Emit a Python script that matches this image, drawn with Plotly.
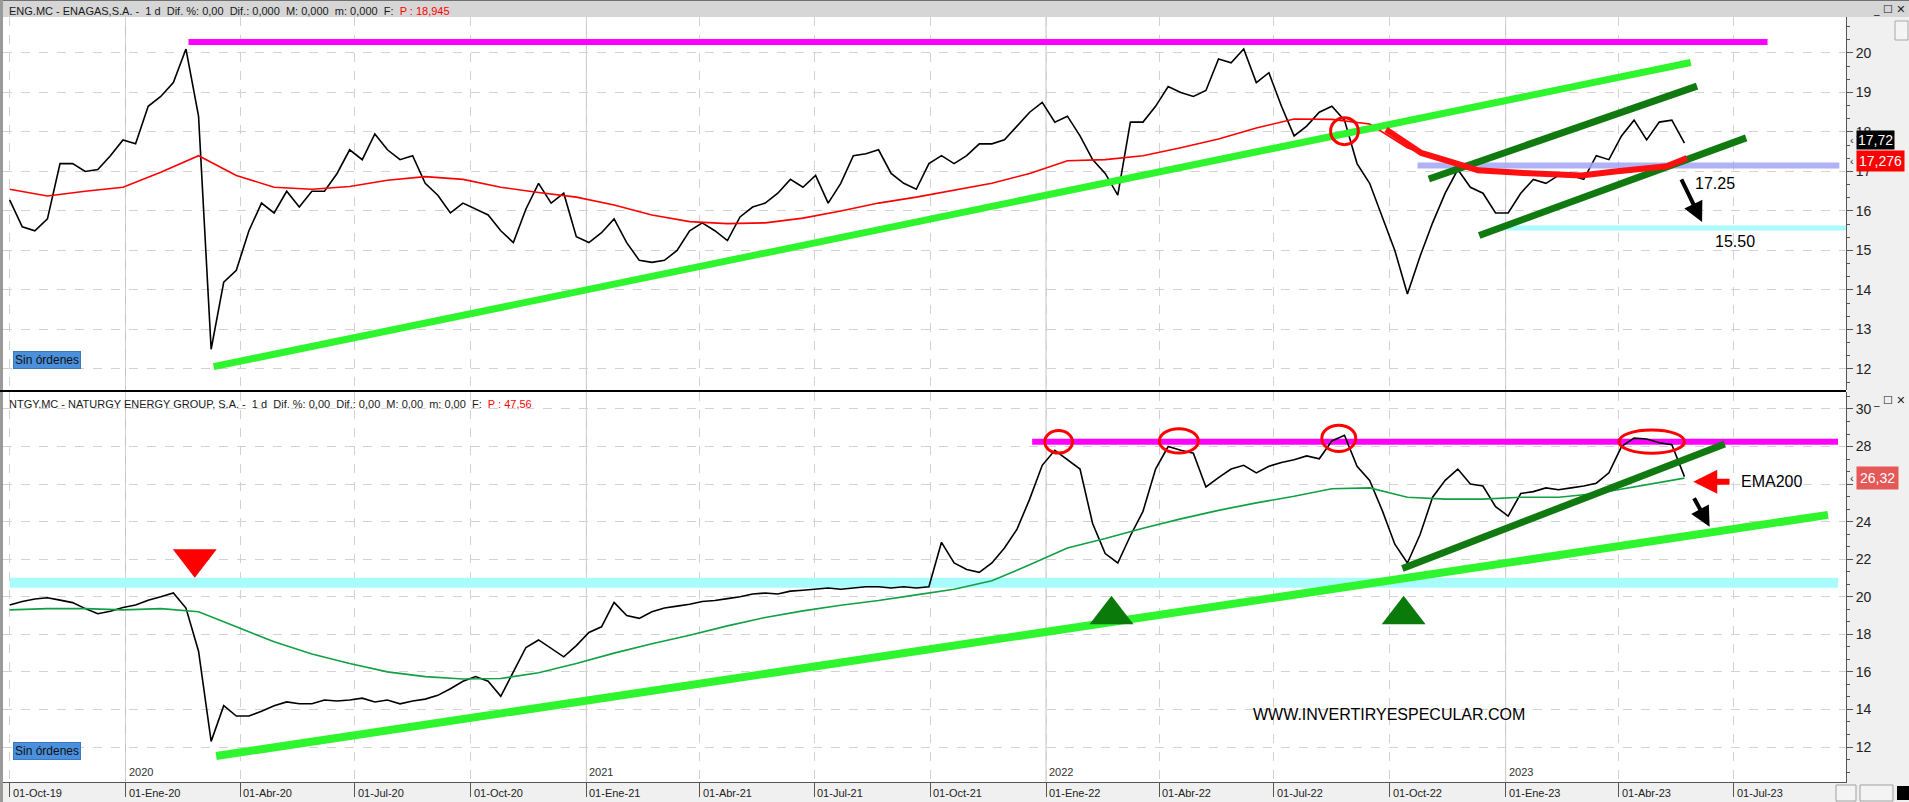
import plotly.graph_objects as go
import pandas as pd

# ---------------- DATA ----------------
sample_dates = pd.date_range("2019-10-01", periods=134, freq="10D")

eng_close = [16.28, 15.6, 15.5, 15.8, 17.2, 17.2, 17.0, 17.05, 17.4, 17.8,
             17.7, 18.65, 18.9, 19.25, 20.1, 18.4, 12.5, 14.2, 14.5, 15.5,
             16.2, 15.95, 16.5, 16.1, 16.5, 16.5, 16.95, 17.55, 17.3, 17.95,
             17.55, 17.3, 17.4, 16.7, 16.4, 15.95, 16.2, 16.05, 15.9, 15.5,
             15.2, 16.05, 16.7, 16.2, 16.45, 15.35, 15.2, 15.45, 15.8, 15.2,
             14.75, 14.7, 14.75, 15.0, 15.5, 15.7, 15.5, 15.25, 15.85, 16.1,
             16.2, 16.45, 16.8, 16.6, 16.9, 16.2, 16.7, 17.4, 17.45, 17.55,
             16.95, 16.7, 16.55, 17.2, 17.4, 17.2, 17.4, 17.7, 17.7, 17.8,
             18.15, 18.5, 18.75, 18.25, 18.4, 17.9, 17.3, 16.95, 16.4, 18.25,
             18.25, 18.65, 19.15, 19.0, 18.9, 19.05, 19.85, 19.75, 20.1, 19.25,
             19.5, 18.65, 17.9, 18.15, 18.5, 18.65, 18.3, 17.2, 16.7, 15.85,
             15.0, 13.9, 14.85, 15.7, 16.45, 17.05, 16.6, 16.45, 15.95, 15.95,
             16.45, 16.8, 16.7, 16.9, 16.9, 16.8, 17.4, 17.3, 17.9, 18.3,
             17.8, 18.25, 18.3, 17.72]

ntgy_close = [19.56, 19.75, 19.88, 19.95, 19.82, 19.69, 19.37, 19.1, 19.23, 19.43,
              19.56, 19.82, 20.0, 20.2, 19.4, 17.1, 12.3, 14.2, 13.65, 13.65,
              13.9, 14.2, 14.4, 14.3, 14.3, 14.5, 14.45, 14.5, 14.6, 14.4,
              14.5, 14.3, 14.45, 14.55, 14.75, 15.1, 15.5, 15.75, 15.5, 14.7,
              16.0, 17.3, 17.7, 17.25, 16.8, 17.4, 18.1, 18.4, 19.7, 19.0,
              18.85, 19.2, 19.4, 19.5, 19.6, 19.75, 19.8, 19.9, 20.0, 20.15,
              20.2, 20.15, 20.3, 20.35, 20.4, 20.47, 20.4, 20.47, 20.53, 20.53,
              20.47, 20.53, 20.47, 20.53, 22.9, 21.8, 21.45, 21.3, 21.8, 22.6,
              23.6, 25.2, 27.0, 27.8, 27.3, 26.8, 23.9, 22.3, 21.8, 23.25,
              24.55, 26.8, 28.0, 27.8, 27.65, 25.85, 26.35, 26.8, 27.0, 26.6,
              26.95, 27.15, 27.3, 27.5, 27.35, 28.3, 28.6, 26.95, 26.2, 24.6,
              22.8, 21.8, 23.3, 25.3, 26.2, 26.8, 26.0, 25.9, 24.8, 24.3,
              25.5, 25.6, 25.8, 25.7, 25.8, 25.9, 26.05, 26.6, 28.0, 28.45,
              28.4, 28.2, 28.1, 26.4]

ema_dates = [sample_dates[k] for k in range(0, 134, 3)] + [sample_dates[133]]
eng_ema200 = [16.55, 16.38, 16.5, 16.6, 16.98, 17.4, 16.9, 16.6, 16.55, 16.62,
              16.78, 16.87, 16.8, 16.6, 16.47, 16.35, 16.15, 15.9, 15.73, 15.68,
              15.7, 15.82, 16.0, 16.2, 16.35, 16.52, 16.7, 16.95, 17.27, 17.3,
              17.4, 17.6, 17.82, 18.1, 18.33, 18.32, 18.2, 17.6, 17.25, 17.05,
              16.97, 16.92, 16.93, 17.04, 17.13, 17.28]
ntgy_ema200 = [19.3, 19.37, 19.37, 19.3, 19.37, 19.2, 18.4, 17.6, 16.95, 16.45,
               16.0, 15.75, 15.62, 15.65, 15.95, 16.45, 17.0, 17.5, 17.95, 18.45,
               18.9, 19.25, 19.55, 19.8, 20.1, 20.4, 20.85, 21.7, 22.6, 23.1,
               23.65, 24.15, 24.6, 25.0, 25.35, 25.75, 25.8, 25.3, 25.2, 25.2,
               25.3, 25.3, 25.5, 25.85, 26.2, 26.32]

# hand-drawn analysis elements (date, value)
eng_resist_dates, eng_resist_vals = ["2020-02-20", "2023-07-28"], [20.28, 20.28]
eng_support_dates, eng_support_vals = ["2020-03-11", "2023-05-28"], [12.06, 19.76]
eng_chan_up_dates, eng_chan_up_vals = ["2022-11-01", "2023-06-02"], [16.81, 19.16]
eng_chan_lo_dates, eng_chan_lo_vals = ["2022-12-11", "2023-07-11"], [15.38, 17.85]
eng_lvl1_dates, eng_lvl1_vals = ["2022-10-23", "2023-09-23"], [17.15, 17.15]
eng_lvl2_dates, eng_lvl2_vals = ["2022-12-28", "2023-10-15"], [15.57, 15.57]
eng_ema_mark_dates = ["2022-09-28", "2022-10-26", "2022-11-22", "2022-12-10", "2023-01-15",
                      "2023-03-02", "2023-03-29", "2023-05-09", "2023-05-25"]
eng_ema_mark_vals = [18.06, 17.47, 17.21, 17.03, 16.96, 16.9, 17.0, 17.13, 17.34]

ntgy_resist_dates, ntgy_resist_vals = ["2021-12-21", "2023-09-22"], [28.26, 28.26]
ntgy_band_dates, ntgy_band_vals = ["2019-10-01", "2023-09-22"], [20.75, 20.75]
ntgy_support_dates, ntgy_support_vals = ["2020-03-13", "2023-09-14"], [11.52, 24.36]
ntgy_trend_dates, ntgy_trend_vals = ["2022-10-11", "2023-06-24"], [21.5, 28.14]

ellipses_top = [("2022-08-15", "2022-09-06", 17.68, 18.36)]
ellipses_bot = [("2021-12-31", "2022-01-22", 27.65, 28.85),
                ("2022-04-01", "2022-05-02", 27.65, 28.95),
                ("2022-08-08", "2022-09-04", 27.74, 29.14),
                ("2023-04-01", "2023-05-23", 27.64, 28.88)]

tri_down_dates, tri_down_vals = ["2020-02-25"], [22.03]
tri_up_dates, tri_up_vals = ["2022-02-22", "2022-10-12"], [19.04, 19.04]

quarter_dates = pd.date_range("2019-10-01", "2023-07-01", freq="QS")
month_es = {1: "Ene", 4: "Abr", 7: "Jul", 10: "Oct"}
quarter_labels = [f"01-{month_es[d.month]}-{d.strftime('%y')}" for d in quarter_dates]
year_dates = ["2020-01-01", "2021-01-01", "2022-01-01", "2023-01-01"]
year_labels = ["2020", "2021", "2022", "2023"]

top_ticks = [12, 13, 14, 15, 16, 17, 18, 19, 20]
bot_ticks = [12, 14, 16, 18, 20, 22, 24, 26, 28, 30]

# ---------------- FIGURE ----------------
FONT = "Liberation Sans"
fig = go.Figure()

def line(xs, ys, color, width, top=True, opacity=1.0):
    fig.add_trace(go.Scatter(x=xs, y=ys, mode="lines", line=dict(color=color, width=width),
                             opacity=opacity, xaxis="x2" if top else "x",
                             yaxis="y" if top else "y2", hoverinfo="skip", showlegend=False))

# background levels
line(ntgy_band_dates, ntgy_band_vals, "#a8fcfc", 10, top=False)
line(eng_lvl2_dates, eng_lvl2_vals, "#aafcfc", 5)
line(eng_resist_dates, eng_resist_vals, "#ff00ff", 6)
line(ntgy_resist_dates, ntgy_resist_vals, "#ff00ff", 6, top=False)

# prices & EMA
line(sample_dates, eng_close, "#000000", 1.6)
line(ema_dates, eng_ema200, "#ff0000", 1.6)
line(sample_dates, ntgy_close, "#000000", 1.6, top=False)
line(ema_dates, ntgy_ema200, "#11a044", 1.6, top=False)

# overlay drawings
line(eng_lvl1_dates, eng_lvl1_vals, "#a4a4f4", 6, opacity=0.85)
line(eng_support_dates, eng_support_vals, "#2ef52e", 7)
line(eng_chan_up_dates, eng_chan_up_vals, "#107a10", 7)
line(eng_chan_lo_dates, eng_chan_lo_vals, "#107a10", 7)
line(eng_ema_mark_dates, eng_ema_mark_vals, "#ff1010", 6)
line(ntgy_support_dates, ntgy_support_vals, "#2ef52e", 8, top=False)
line(ntgy_trend_dates, ntgy_trend_vals, "#107a10", 7, top=False)

fig.add_trace(go.Scatter(x=tri_down_dates, y=tri_down_vals, mode="markers",
                         marker=dict(symbol="triangle-down", size=38, color="#ff0000"),
                         xaxis="x", yaxis="y2", hoverinfo="skip", showlegend=False))
fig.add_trace(go.Scatter(x=tri_up_dates, y=tri_up_vals, mode="markers",
                         marker=dict(symbol="triangle-up", size=38, color="#0a7a0a"),
                         xaxis="x", yaxis="y2", hoverinfo="skip", showlegend=False))

PW = 1843.0   # plot width in px (for paper offsets outside the plot)
PH = 765.0

def px_x(px):  # page x pixel -> paper
    return (px - 3) / PW

def px_y(py):  # page y pixel -> paper
    return (782 - py) / PH

shapes = []
# header bar
shapes.append(dict(type="rect", xref="paper", yref="paper", x0=px_x(0), x1=px_x(1909),
                   y0=px_y(17), y1=px_y(0), fillcolor="#d6d6d6", line=dict(width=0), layer="below"))
shapes.append(dict(type="line", xref="paper", yref="paper", x0=px_x(0), x1=px_x(1909),
                   y0=px_y(0.5), y1=px_y(0.5), line=dict(color="#707070", width=1)))
# left border
shapes.append(dict(type="rect", xref="paper", yref="paper", x0=px_x(0), x1=px_x(3),
                   y0=px_y(802), y1=px_y(0), fillcolor="#9a9a9a", line=dict(width=0)))
# year separators
for yd in year_dates:
    shapes.append(dict(type="line", xref="x", yref="paper", x0=yd, x1=yd, y0=0, y1=1,
                       line=dict(color="#c4c4c4", width=1), layer="below"))
# panel separator
shapes.append(dict(type="line", xref="paper", yref="paper", x0=px_x(0), x1=1.0,
                   y0=px_y(391), y1=px_y(391), line=dict(color="#000000", width=2)))
# bottom-right toolbar
for x0, x1 in ((1836, 1856), (1860, 1893)):
    shapes.append(dict(type="rect", xref="paper", yref="paper", x0=px_x(x0), x1=px_x(x1),
                       y0=px_y(801), y1=px_y(785), fillcolor="#f4f4f4",
                       line=dict(color="#a0a0a0", width=1)))
shapes.append(dict(type="rect", xref="paper", yref="paper", x0=px_x(1897), x1=px_x(1909),
                   y0=px_y(800), y1=px_y(786), fillcolor="#000000", line=dict(width=0)))
# small icon box at top right of the price axis
shapes.append(dict(type="rect", xref="paper", yref="paper", x0=px_x(1895), x1=px_x(1908),
                   y0=px_y(40), y1=px_y(21), fillcolor="#f4f4f4",
                   line=dict(color="#a8a8a8", width=1)))
for x0, x1, y0, y1 in ellipses_top:
    shapes.append(dict(type="circle", xref="x2", yref="y", x0=x0, x1=x1, y0=y0, y1=y1,
                       line=dict(color="#ff0000", width=3)))
for x0, x1, y0, y1 in ellipses_bot:
    shapes.append(dict(type="circle", xref="x", yref="y2", x0=x0, x1=x1, y0=y0, y1=y1,
                       line=dict(color="#ff0000", width=3)))

ann = []
hdr_font = dict(family=FONT, size=11, color="#1a1a1a")
ann.append(dict(xref="paper", yref="paper", x=px_x(7), y=px_y(10.5), xanchor="left", yanchor="middle",
                showarrow=False, font=hdr_font,
                text="ENG.MC - ENAGAS,S.A. -  1 d  Dif. %: 0,00  Dif.: 0,000  M: 0,000  m: 0,000  F:  "
                     "<span style='color:#ff0000'>P : 18,945</span>"))
ann.append(dict(xref="paper", yref="paper", x=px_x(7), y=px_y(404), xanchor="left", yanchor="middle",
                showarrow=False, font=hdr_font,
                text="NTGY.MC - NATURGY ENERGY GROUP, S.A. -  1 d  Dif. %: 0,00  Dif.: 0,00  M: 0,00  m: 0,00  F:  "
                     "<span style='color:#ff0000'>P : 47,56</span>"))
# window buttons
for yy in (9, 400):
    ann.append(dict(xref="paper", yref="paper", x=px_x(1908), y=px_y(yy), xanchor="right",
                    yanchor="middle", showarrow=False, text="_ ☐ ✕",
                    font=dict(family="DejaVu Sans", size=11, color="#222")))
for yv in (px_y(359.5), px_y(751)):
    ann.append(dict(xref="paper", yref="paper", x=px_x(13), y=yv, xanchor="left", yanchor="middle",
                    showarrow=False, text="Sin órdenes", bgcolor="#4a90dc", bordercolor="#3a78c0",
                    borderwidth=1, borderpad=1, font=dict(family=FONT, size=12, color="#111")))
# x tick labels
for d, t in zip(quarter_dates, quarter_labels):
    ann.append(dict(xref="x", yref="paper", x=d, y=px_y(793), xanchor="left", yanchor="middle",
                    xshift=1, showarrow=False, text=t, font=dict(family=FONT, size=11, color="#222")))
for d, t in zip(year_dates, year_labels):
    ann.append(dict(xref="x", yref="paper", x=d, y=px_y(772), xanchor="left", yanchor="middle",
                    xshift=1, showarrow=False, text=t, font=dict(family=FONT, size=11, color="#333")))
# price labels on the axis
lab_x = px_x(1856)
ann.append(dict(xref="paper", yref="y", x=lab_x, y=17.8, xanchor="left", yanchor="middle",
                showarrow=False, text="17,72", bgcolor="#000000", borderpad=1,
                font=dict(family=FONT, size=14, color="#ffffff")))
ann.append(dict(xref="paper", yref="y", x=lab_x, y=17.27, xanchor="left", yanchor="middle",
                showarrow=False, text="17,276", bgcolor="#ff0000", borderpad=2,
                font=dict(family=FONT, size=14, color="#ffffff")))
ann.append(dict(xref="paper", yref="y2", x=lab_x, y=26.35, xanchor="left", yanchor="middle",
                showarrow=False, text="26,32", bgcolor="#e55858", borderpad=3,
                font=dict(family=FONT, size=14, color="#ffffff")))
for yref, yv in (("y", 17.8), ("y", 17.27), ("y2", 26.32)):
    ann.append(dict(xref="paper", yref=yref, x=px_x(1848), y=yv, xanchor="left", yanchor="middle",
                    showarrow=False, text="‹", font=dict(family=FONT, size=11, color="#333")))
# texts on chart
txt_font = dict(family=FONT, size=16, color="#000")
ann.append(dict(xref="x2", yref="y", x="2023-06-16", y=16.69, showarrow=False, text="17.25", font=txt_font))
ann.append(dict(xref="x2", yref="y", x="2023-07-02", y=15.24, showarrow=False, text="15.50", font=txt_font))
ann.append(dict(xref="x", yref="y2", x="2023-07-05", y=26.13, xanchor="left", showarrow=False,
                text="EMA200", font=txt_font))
ann.append(dict(xref="x", yref="y2", x="2022-09-30", y=13.71, showarrow=False,
                text="WWW.INVERTIRYESPECULAR.COM", font=txt_font))
# arrows
ann.append(dict(xref="x2", yref="y", axref="x2", ayref="y", x="2023-06-06", y=15.72,
                ax="2023-05-20", ay=16.84, text="", showarrow=True, arrowhead=2, arrowsize=1,
                arrowwidth=4, arrowcolor="#000"))
ann.append(dict(xref="x", yref="y2", axref="x", ayref="y2", x="2023-06-12", y=23.73,
                ax="2023-05-30", ay=25.33, text="", showarrow=True, arrowhead=2, arrowsize=1,
                arrowwidth=4, arrowcolor="#000"))
ann.append(dict(xref="x", yref="y2", axref="x", ayref="y2", x="2023-05-30", y=26.13,
                ax="2023-06-29", ay=26.13, text="", showarrow=True, arrowhead=2, arrowsize=0.8,
                arrowwidth=6, arrowcolor="#ff0000"))

xr = ["2019-09-25 17:00", "2023-09-28 07:00"]
axis_common = dict(type="date", range=xr, tickvals=quarter_dates, showticklabels=False,
                   showgrid=True, gridcolor="#d2d2d2", griddash="dash", gridwidth=1, zeroline=False)
yfont = dict(family=FONT, size=14, color="#222")

fig.update_layout(
    width=1909, height=802,
    margin=dict(l=3, r=63, t=17, b=20),
    paper_bgcolor="#f0f0f0", plot_bgcolor="#ffffff",
    showlegend=False, hovermode=False,
    xaxis=dict(domain=[0, 1], anchor="y2", ticks="outside", ticklen=14, tickcolor="#555",
               showline=True, linecolor="#555", linewidth=1, **axis_common),
    xaxis2=dict(domain=[0, 1], anchor="y", matches="x", ticks="", showline=False, **axis_common),
    yaxis=dict(domain=[px_y(390), 1.0], range=[11.468, 20.911], side="right", anchor="x2",
               tickmode="array", tickvals=top_ticks, ticktext=[str(v) for v in top_ticks],
               showgrid=True, gridcolor="#d2d2d2",
               griddash="dash", ticks="outside", ticklen=6, tickcolor="#555", showline=True,
               linecolor="#555", tickfont=yfont, zeroline=False,
               minor=dict(tick0=12, dtick=1/3, ticks="outside", ticklen=3, tickcolor="#555",
                          showgrid=False)),
    yaxis2=dict(domain=[0.0, px_y(392)], range=[10.136, 30.905], side="right", anchor="x",
                tickmode="array", tickvals=bot_ticks,
                ticktext=["" if v == 26 else str(v) for v in bot_ticks],
                showgrid=True, gridcolor="#d2d2d2",
                griddash="dash", ticks="outside", ticklen=6, tickcolor="#555", showline=True,
                linecolor="#555", tickfont=yfont, zeroline=False,
                minor=dict(tick0=10, dtick=2/3, ticks="outside", ticklen=3, tickcolor="#555",
                           showgrid=False)),
    shapes=shapes, annotations=ann,
)

fig.write_html("out.html", config={"displayModeBar": False},
               post_script="document.body.style.margin='0';document.body.style.overflow='hidden';")
